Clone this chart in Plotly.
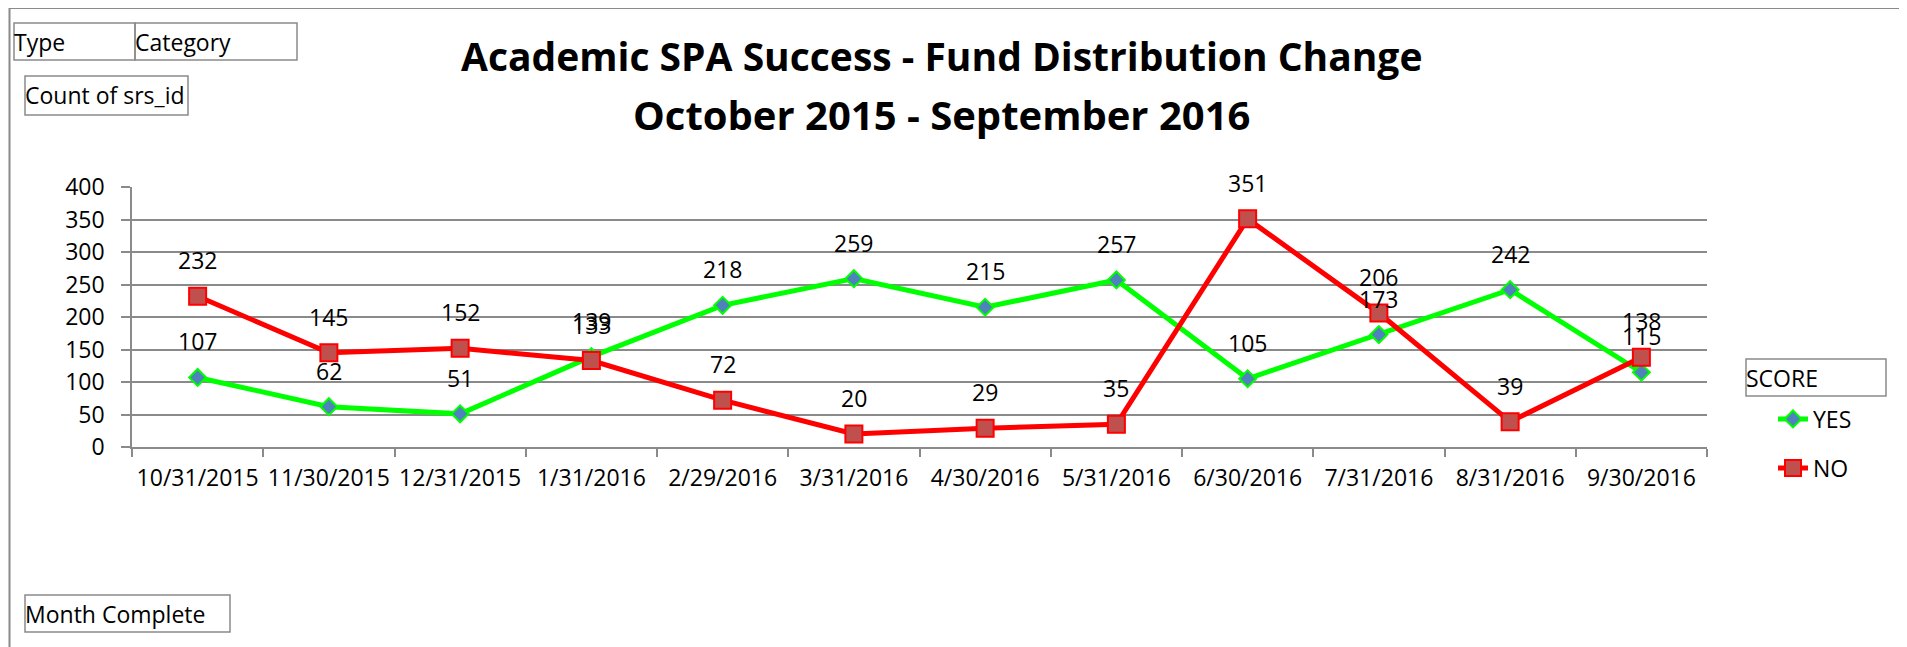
import plotly.graph_objects as go

categories = ["10/31/2015", "11/30/2015", "12/31/2015", "1/31/2016", "2/29/2016", "3/31/2016",
              "4/30/2016", "5/31/2016", "6/30/2016", "7/31/2016", "8/31/2016", "9/30/2016"]
yes_values = [107, 62, 51, 139, 218, 259, 215, 257, 105, 173, 242, 115]
no_values = [232, 145, 152, 133, 72, 20, 29, 35, 351, 206, 39, 138]
y_ticks = [0, 50, 100, 150, 200, 250, 300, 350, 400]

# page is rendered with an 8px body margin
OFF = 8
W, H = 1907 - OFF, 647 - OFF
PLOT_LEFT, PLOT_TOP, PW, PH = 132, 187, 1575, 260
L, T = PLOT_LEFT - OFF, PLOT_TOP - OFF
R, B = W - L - PW, H - T - PH
FONT = "Open Sans"
GRAY = "#8a8a8a"


def px(x):
    return (x - PLOT_LEFT) / PW


def py(y):
    return (PLOT_TOP + PH - y) / PH


fig = go.Figure()
fig.add_trace(go.Scatter(
    x=categories, y=yes_values, name="YES", mode="lines+markers",
    line=dict(color="#00ff00", width=5),
    marker=dict(symbol="diamond", size=13, color="#4f81bd", line=dict(color="#00ff00", width=2)),
    legend="legend",
))
fig.add_trace(go.Scatter(
    x=categories, y=no_values, name="NO", mode="lines+markers",
    line=dict(color="#ff0000", width=5),
    marker=dict(symbol="square", size=17, color="#c0504d", line=dict(color="#ff0000", width=2)),
    legend="legend2",
))

annotations = []
for vals in (yes_values, no_values):
    for c, v in zip(categories, vals):
        annotations.append(dict(x=c, y=v, xref="x", yref="y", text=str(v), showarrow=False,
                                yshift=36, font=dict(family=FONT, size=23, color="black")))

annotations.append(dict(xref="paper", yref="paper", x=px(942), y=py(55), text="<b>Academic SPA Success - Fund Distribution Change</b>",
                        showarrow=False, xanchor="center", yanchor="middle",
                        font=dict(family=FONT, size=39, color="black")))
annotations.append(dict(xref="paper", yref="paper", x=px(942), y=py(114), text="<b>October 2015 - September 2016</b>",
                        showarrow=False, xanchor="center", yanchor="middle",
                        font=dict(family=FONT, size=40, color="black")))

boxes = [
    ("Type", 14, 23, 135, 60),
    ("Category", 135, 23, 297, 60),
    ("Count of srs_id", 25, 76, 188, 115),
    ("Month Complete", 25, 595, 230, 632),
    ("SCORE", 1746, 359, 1886, 396),
]
shapes = [dict(type="rect", xref="paper", yref="paper", x0=px(OFF + 1.5), y0=py(8), x1=px(1903), y1=py(720),
               line=dict(color=GRAY, width=2), fillcolor="rgba(0,0,0,0)", layer="below")]
for text, x0, y0, x1, y1 in boxes:
    shapes.append(dict(type="rect", xref="paper", yref="paper", x0=px(x0), y0=py(y0), x1=px(x1), y1=py(y1),
                       line=dict(color=GRAY, width=1.5), fillcolor="rgba(0,0,0,0)"))
    annotations.append(dict(xref="paper", yref="paper", x=px(x0 - 2), y=py((y0 + y1) / 2), text=text,
                            showarrow=False, xanchor="left", yanchor="middle",
                            font=dict(family=FONT, size=23, color="black")))

fig.update_layout(
    width=W, height=H,
    margin=dict(l=L, r=R, t=T, b=B, pad=0),
    paper_bgcolor="white", plot_bgcolor="white",
    font=dict(family=FONT, size=23, color="black"),
    showlegend=True,
    legend=dict(x=px(1773), y=py(419), xanchor="left", yanchor="middle", font=dict(family=FONT, size=23),
                bgcolor="rgba(0,0,0,0)", borderwidth=0),
    legend2=dict(x=px(1773), y=py(468), xanchor="left", yanchor="middle", font=dict(family=FONT, size=23),
                 bgcolor="rgba(0,0,0,0)", borderwidth=0),
    xaxis=dict(type="category", categoryorder="array", categoryarray=categories,
               showline=True, linecolor=GRAY, linewidth=1.5, ticks="outside", ticklen=8,
               tickcolor=GRAY, tickwidth=1.5, tickson="boundaries", showgrid=False, tickangle=0,
               tickfont=dict(family=FONT, size=23), range=[-0.5, 11.5], ticklabelstandoff=10),
    yaxis=dict(range=[0, 400], tickvals=y_ticks, showline=True, linecolor=GRAY, linewidth=1.5,
               ticks="outside", ticklen=9, tickcolor=GRAY, tickwidth=1.5,
               showgrid=True, gridcolor=GRAY, gridwidth=1.5, zeroline=False,
               tickfont=dict(family=FONT, size=23), ticklabelstandoff=12),
    annotations=annotations,
    shapes=shapes,
)

fig.write_html("out.html")
